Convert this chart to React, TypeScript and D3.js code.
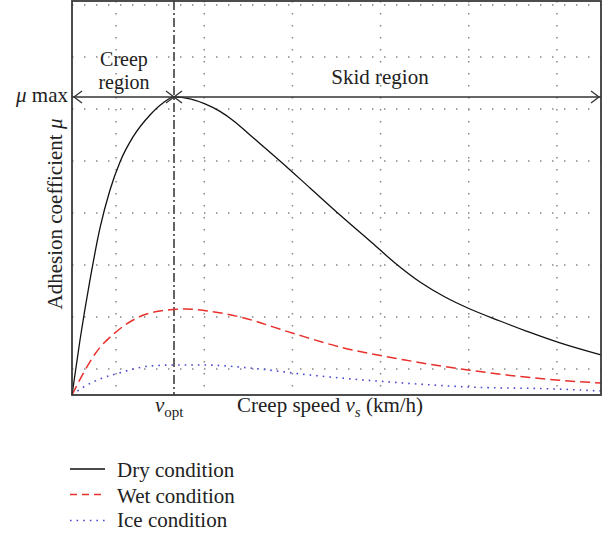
import React from "react";
import * as d3 from "d3";

// Data (x: creep speed in grid units, y: adhesion in grid units)
const dryX = [0, 0.1815, 0.4083, 0.6352, 0.862, 1.0889, 1.3838, 1.7694, 2.0643, 2.3138, 2.6768, 3.0171, 3.3573, 3.6976, 4.0378, 4.7184, 5.3989, 6.0794, 6.76, 7.327, 7.894, 8.461, 9.028, 9.709, 10.389, 11.07, 12.0];
const dryY = [0, 2.115, 4.423, 6.423, 7.885, 8.962, 9.923, 10.769, 11.231, 11.462, 11.385, 11.192, 10.904, 10.5, 10.0, 9.0, 7.962, 6.923, 5.923, 5.077, 4.346, 3.769, 3.308, 2.846, 2.404, 2.0, 1.538];
const wetX = [0, 0.2722, 0.5217, 0.9981, 1.4745, 1.9962, 2.5633, 2.9943, 3.811, 4.9906, 6.0794, 7.554, 8.983, 10.979, 12.0];
const wetY = [0, 0.885, 1.577, 2.423, 2.962, 3.231, 3.308, 3.25, 3.0, 2.385, 1.846, 1.346, 0.962, 0.577, 0.462];
const iceX = [0, 0.227, 0.476, 0.635, 0.907, 1.066, 1.770, 2.337, 2.995, 4.038, 5.399, 7.509, 8.984, 10.980, 12.0];
const iceY = [0, 0.269, 0.5, 0.615, 0.769, 0.846, 1.115, 1.154, 1.154, 1.038, 0.769, 0.462, 0.308, 0.231, 0.154];
const xGrid = [1, 3, 5, 7, 9, 11];
const yGrid = [1, 3, 5, 7, 9, 11, 13, 15];
const vOpt = 2.3138;
const muMax = 11.462;
const legendLabels = ["Dry condition", "Wet condition", "Ice condition"];

const W = 611, H = 535;
const L = 72, R = 601, T = 1, B = 395;
const FONT = "'Liberation Serif', 'DejaVu Serif', serif";

export default function App() {
  const x = d3.scaleLinear().domain([0, 12]).range([L, R]);
  const y = d3.scaleLinear().domain([0, 15.15]).range([B, T]);
  const line = (xs: number[], ys: number[]) =>
    d3.line<number>().x((_, i) => x(xs[i])).y((_, i) => y(ys[i])).curve(d3.curveMonotoneX)(xs) || "";

  const ay = y(muMax);
  const xo = x(vOpt);
  const ah = (tipX: number, dir: number) =>
    `M${tipX + dir * 8},${ay - 6}L${tipX},${ay}L${tipX + dir * 8},${ay + 6}`;

  const styles = [
    { stroke: "#111", dash: undefined, w: 1.3 },
    { stroke: "#e8302c", dash: "10,5", w: 1.5 },
    { stroke: "#4a4ad0", dash: "1.6,5", w: 1.6 },
  ];

  return (
    <svg width={W} height={H} style={{ position: "absolute", left: 0, top: 0, background: "#fff" }}>
      {/* grid */}
      {yGrid.map((g) => (
        <line key={"hy" + g} x1={L} x2={R} y1={y(g)} y2={y(g)} stroke="#888" strokeWidth={1.5} strokeDasharray="1.5,10.5" />
      ))}
      {xGrid.map((g) => (
        <line key={"vx" + g} x1={x(g)} x2={x(g)} y1={T} y2={B} stroke="#888" strokeWidth={1.5} strokeDasharray="1.5,10.5" />
      ))}
      {/* vopt dash-dot */}
      <line x1={xo} x2={xo} y1={T} y2={B} stroke="#222" strokeWidth={1.4} strokeDasharray="9,3,2,3" />
      {/* curves */}
      <path d={line(iceX, iceY)} fill="none" stroke={styles[2].stroke} strokeWidth={styles[2].w} strokeDasharray={styles[2].dash} />
      <path d={line(wetX, wetY)} fill="none" stroke={styles[1].stroke} strokeWidth={styles[1].w} strokeDasharray={styles[1].dash} />
      <path d={line(dryX, dryY)} fill="none" stroke={styles[0].stroke} strokeWidth={styles[0].w} />
      {/* mu max arrows */}
      <line x1={L} x2={R} y1={ay} y2={ay} stroke="#333" strokeWidth={1.5} />
      <path d={ah(L + 2, 1)} fill="none" stroke="#333" strokeWidth={1.3} />
      <path d={ah(xo, -1)} fill="none" stroke="#333" strokeWidth={1.3} />
      <path d={ah(xo, 1)} fill="none" stroke="#333" strokeWidth={1.3} />
      <path d={ah(R - 2, -1)} fill="none" stroke="#333" strokeWidth={1.3} />
      {/* frame */}
      <rect x={L} y={T} width={R - L} height={B - T} fill="none" stroke="#3a3a3a" strokeWidth={1.8} />
      {/* texts */}
      <g fontFamily={FONT} fontSize={21} fill="#222">
        <text x={124} y={66} textAnchor="middle" fontSize={20}>Creep</text>
        <text x={124} y={89} textAnchor="middle" fontSize={20}>region</text>
        <text x={380} y={84} textAnchor="middle">Skid region</text>
        <text x={68} y={102} textAnchor="end">
          <tspan fontStyle="italic">μ</tspan> max
        </text>
        <text transform="translate(62,214) rotate(-90)" textAnchor="middle">
          Adhesion coefficient <tspan fontStyle="italic">μ</tspan>
        </text>
        <text x={155} y={412}>
          <tspan fontStyle="italic">v</tspan>
          <tspan fontSize={15} dy={5}>opt</tspan>
        </text>
        <text x={237} y={412}>
          Creep speed <tspan fontStyle="italic">v</tspan>
          <tspan fontStyle="italic" fontSize={15} dy={5}>s</tspan>
          <tspan dy={-5}> (km/h)</tspan>
        </text>
        {legendLabels.map((lab, i) => {
          const ly = [469, 494.5, 520.5][i];
          return (
            <g key={lab}>
              <line x1={70} x2={105} y1={ly} y2={ly} stroke={styles[i].stroke} strokeWidth={styles[i].w} strokeDasharray={i === 1 ? "7,5" : styles[i].dash} />
              <text x={117} y={[477, 503, 527][i]}>{lab}</text>
            </g>
          );
        })}
      </g>
    </svg>
  );
}
